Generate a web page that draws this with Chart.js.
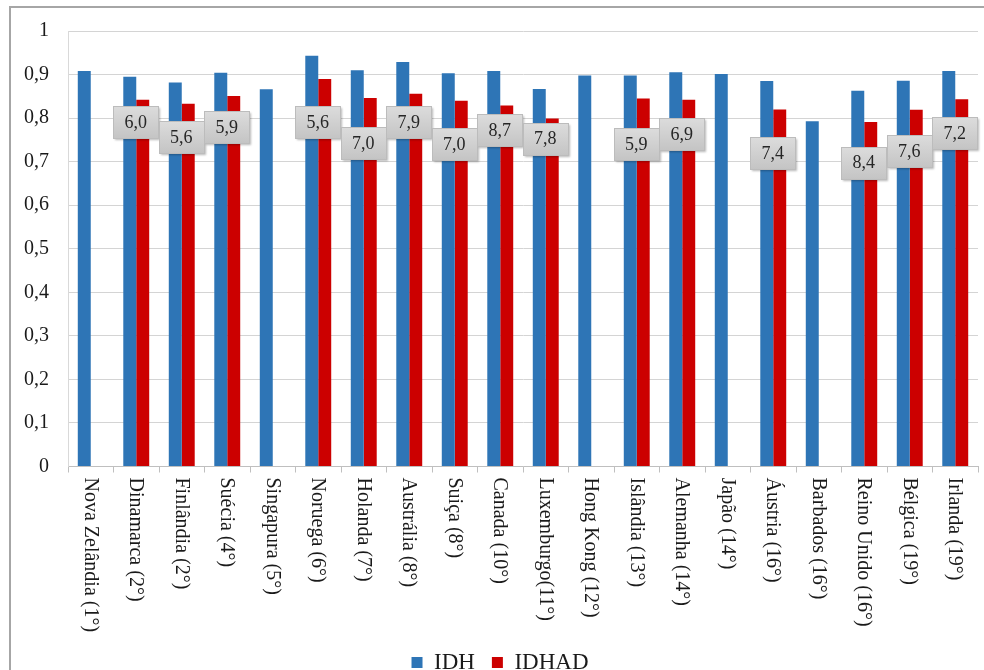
<!DOCTYPE html>
<html lang="pt">
<head>
<meta charset="utf-8">
<title>IDH e IDHAD</title>
<script src="https://cdn.jsdelivr.net/npm/chart.js@4.4.1/dist/chart.umd.min.js"></script>
<style>
  html, body { margin: 0; padding: 0; background: #ffffff; overflow: hidden; }
  #frame {
    position: absolute; left: 9px; top: 6px; width: 1100px; height: 1000px;
    border-left: 2px solid #a6a6a6; border-top: 2px solid #a6a6a6;
  }
  #chart { position: absolute; left: 0; top: 0; }
</style>
</head>
<body>
<div id="frame"></div>
<canvas id="chart" width="984" height="684"></canvas>
<script>
// Países com a posição no ranking do IDH
const countries = [
  'Nova Zelândia (1°)', 'Dinamarca (2°)', 'Finlândia (2°)', 'Suécia (4°)',
  'Singapura (5°)', 'Noruega (6°)', 'Holanda (7°)', 'Austrália (8°)',
  'Suiça (8°)', 'Canada (10°)', 'Luxemburgo(11°)', 'Hong Kong (12°)',
  'Islândia (13°)', 'Alemanha (14°)', 'Japão (14°)', 'Áustria (16°)',
  'Barbados (16°)', 'Reino Unido (16°)', 'Bélgica (19°)', 'Irlanda (19°)'
];

// Índice de Desenvolvimento Humano
const idh = [
  0.908, 0.895, 0.882, 0.904, 0.866, 0.943, 0.910, 0.929, 0.903, 0.908,
  0.867, 0.898, 0.898, 0.905, 0.901, 0.885, 0.793, 0.863, 0.886, 0.908
];

// IDH ajustado à desigualdade (sem dados para alguns países)
const idhad = [
  null, 0.842, 0.833, 0.851, null, 0.890, 0.846, 0.856, 0.840, 0.829,
  0.799, null, 0.845, 0.842, null, 0.820, null, 0.791, 0.819, 0.843
];

// Perda percentual exibida nas caixas
const perda = [
  null, '6,0', '5,6', '5,9', null, '5,6', '7,0', '7,9', '7,0', '8,7',
  '7,8', null, '5,9', '6,9', null, '7,4', null, '8,4', '7,6', '7,2'
];

// Altura (em unidades do eixo) do centro de cada caixa de perda
const perdaAltura = [
  null, 0.791, 0.757, 0.780, null, 0.791, 0.743, 0.790, 0.741, 0.772,
  0.753, null, 0.740, 0.764, null, 0.719, null, 0.698, 0.724, 0.765
];

const SERIF = '"Liberation Serif", "Times New Roman", "DejaVu Serif", serif';

// Rótulos do eixo X escritos de cima para baixo
const verticalLabels = {
  id: 'verticalLabels',
  afterDraw(chart) {
    const x = chart.scales.x;
    const ctx = chart.ctx;
    ctx.save();
    ctx.font = '20px ' + SERIF;
    ctx.fillStyle = '#1a1a1a';
    ctx.textAlign = 'left';
    ctx.textBaseline = 'middle';
    countries.forEach((name, i) => {
      const px = x.getPixelForTick(i) - 1;
      ctx.save();
      ctx.translate(px, x.top + 11);
      ctx.rotate(Math.PI / 2);
      ctx.fillText(name, 0, 0);
      ctx.restore();
    });
    ctx.restore();
  }
};

// Caixas cinzentas com a perda percentual
const lossBoxes = {
  id: 'lossBoxes',
  afterDatasetsDraw(chart) {
    const x = chart.scales.x, y = chart.scales.y;
    const ctx = chart.ctx;
    const w = 45, h = 32;
    perda.forEach((txt, i) => {
      if (txt === null) return;
      const cx = x.getPixelForValue(i) - 0.5;
      const cy = y.getPixelForValue(perdaAltura[i]);
      const left = Math.round(cx - w / 2) + 0.5;
      const top = Math.round(cy - h / 2) + 0.5;
      ctx.save();
      ctx.shadowColor = 'rgba(0,0,0,0.28)';
      ctx.shadowBlur = 2;
      ctx.shadowOffsetX = 1;
      ctx.shadowOffsetY = 1;
      const g = ctx.createLinearGradient(0, top, 0, top + h);
      g.addColorStop(0, '#dcdcdc');
      g.addColorStop(1, '#c4c4c4');
      ctx.fillStyle = g;
      ctx.fillRect(left, top, w, h);
      ctx.shadowColor = 'transparent';
      ctx.strokeStyle = '#bcbcbc';
      ctx.lineWidth = 1;
      ctx.strokeRect(left, top, w, h);
      ctx.font = '18px ' + SERIF;
      ctx.fillStyle = '#262626';
      ctx.textAlign = 'center';
      ctx.textBaseline = 'middle';
      ctx.fillText(txt, cx, cy + 1);
      ctx.restore();
    });
  }
};

new Chart(document.getElementById('chart'), {
  type: 'bar',
  data: {
    labels: countries,
    datasets: [
      { label: 'IDH', data: idh, backgroundColor: '#2e75b6', borderWidth: 0 },
      { label: 'IDHAD', data: idhad, backgroundColor: '#cc0000', borderWidth: 0 }
    ]
  },
  options: {
    responsive: false,
    devicePixelRatio: 1,
    animation: false,
    datasets: { bar: { categoryPercentage: 0.57, barPercentage: 1 } },
    layout: { padding: { left: 22, top: 28, right: 6, bottom: 0 } },
    scales: {
      x: {
        grid: {
          display: true, drawOnChartArea: false, drawTicks: true,
          tickLength: 6, color: '#bfbfbf', offset: true
        },
        border: { display: true, color: '#bfbfbf' },
        ticks: { display: false },
        afterFit(scale) { scale.height = 167.5; }
      },
      y: {
        min: 0, max: 1,
        grid: { color: '#d4d4d4', drawTicks: false },
        border: { display: true, color: '#d9d9d9' },
        ticks: {
          stepSize: 0.1,
          padding: 19,
          color: '#1a1a1a',
          font: { family: SERIF, size: 20 },
          callback(v) {
            const r = Math.round(v * 10) / 10;
            if (r === 0) return '0';
            if (r === 1) return '1';
            return r.toFixed(1).replace('.', ',');
          }
        },
        afterFit(scale) { scale.width = 46; }
      }
    },
    plugins: {
      legend: {
        position: 'bottom',
        labels: {
          boxWidth: 11, boxHeight: 11, padding: 17,
          color: '#1a1a1a',
          font: { family: SERIF, size: 23 }
        }
      },
      tooltip: { enabled: false }
    }
  },
  plugins: [lossBoxes, verticalLabels]
});
</script>
</body>
</html>
